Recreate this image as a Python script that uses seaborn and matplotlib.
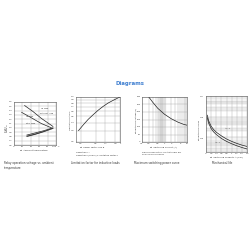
import numpy as np
import pandas as pd
import matplotlib
matplotlib.use("Agg")
import matplotlib.pyplot as plt
import seaborn as sns

sns.set_theme(style="white")
plt.rcParams['font.family'] = ['DejaVu Sans']

# Panel 1: relay operation voltage vs ambient temperature
p1_temp_max = [25, 45, 65, 93]
p1_umax_noload = [1.52, 1.38, 1.22, 1.03]
p1_temp_max2 = [18, 40, 65, 89]
p1_umax_load = [1.36, 1.24, 1.10, 1.00]
p1_temp_min = [30, 50, 70, 93]
p1_umin_a = [0.83, 0.88, 0.93, 1.00]
p1_umin_b = [0.80, 0.85, 0.91, 0.99]
p1_xticks = [0, 20, 40, 60, 80, 100]
p1_yticks = [0.6, 0.7, 0.8, 0.9, 1.0, 1.1, 1.2, 1.3, 1.4, 1.5, 1.6]

# Panel 2: limitation factor for inductive loads
p2_cosphi = [0.15, 0.25, 0.35, 0.45, 0.55, 0.65, 0.75, 0.85, 0.95, 1.0]
p2_factor = [0.30, 0.37, 0.45, 0.53, 0.62, 0.71, 0.80, 0.88, 0.96, 1.0]
p2_xticks = [0.2, 0.5, 0.7, 0.9, 1.0]
p2_xlabels = ["0.2", "0.5", "0.7", "0.9", "1"]

# Panel 3: maximum switching power curve
p3_current = [0.2, 0.3, 0.5, 1.0, 2.0, 4.0, 7.0, 10.0]
p3_voltage = [300, 265, 225, 185, 155, 132, 118, 112]
p3_xticks = [0.1, 0.2, 0.5, 1, 2, 5, 10]
p3_yticks = [0, 50, 100, 150, 200, 250, 300]

# Panel 4: mechanical life
p4_load = [0.05, 0.1, 0.2, 0.3, 0.4, 0.6, 0.8, 1.0, 1.2, 1.4, 1.6]
p4_life_a = [1.2e6, 6.5e5, 3.5e5, 2.4e5, 1.8e5, 1.2e5, 8.5e4, 6.5e4, 5.2e4, 4.3e4, 3.7e4]
p4_life_b = [9.0e5, 5.0e5, 2.7e5, 1.85e5, 1.4e5, 9.0e4, 6.5e4, 5.0e4, 4.0e4, 3.3e4, 2.8e4]
p4_xticks = [0, 0.2, 0.4, 0.6, 0.8, 1.0, 1.2, 1.4, 1.6]

captions = ["Relay operation voltage vs. ambient\ntemperature",
            "Limitation factor for inductive loads",
            "Maximum switching power curve",
            "Mechanical life"]

W = H = 250
fig = plt.figure(figsize=(2.5, 2.5), dpi=100)
fig.patch.set_facecolor("white")

def rect(x0, y0, x1, y1):
    return [x0 / W, 1 - y1 / H, (x1 - x0) / W, (y1 - y0) / H]

TF = 1.6
GC = "#9a9a9a"

def style(ax):
    for s in ax.spines.values():
        s.set_linewidth(0.4)
        s.set_color("#555555")
    ax.tick_params(labelsize=TF, length=0, pad=1, colors="#444444")
    ax.grid(True, which="both", color=GC, linewidth=0.25)
    ax.set_xlabel("")
    ax.set_ylabel("")

fig.text(130.5 / W, 1 - 83 / H, "Diagrams", ha="center", va="center",
         fontsize=3.9, color="#3f7fd0", fontweight="bold")

# ---- Panel 1
ax1 = fig.add_axes(rect(14, 102, 56, 145))
for xs, ys in [(p1_temp_max, p1_umax_noload), (p1_temp_max2, p1_umax_load),
               (p1_temp_min, p1_umin_a), (p1_temp_min, p1_umin_b)]:
    sns.lineplot(x=xs, y=ys, ax=ax1, color="#222222", linewidth=0.5)
ax1.fill_between(p1_temp_min, p1_umin_b, p1_umin_a, color="#777777", linewidth=0)
ax1.set_xlim(0, 100)
ax1.set_ylim(0.6, 1.6)
ax1.set_xticks(p1_xticks)
ax1.set_xticklabels([str(v) for v in p1_xticks[:-1]] + ["100 °C"])
ax1.set_yticks(p1_yticks)
ax1.set_yticklabels([f"{v:.1f}" for v in p1_yticks])
style(ax1)
ax1.text(62, 1.33, "U$_n$ max\nwithout load", fontsize=1.5, color="#333333")
ax1.text(27, 1.08, "U$_n$ max\nat I$_n$ max", fontsize=1.5, color="#333333")
fig.text(7 / W, 1 - 128 / H, "U/U$_n$", rotation=90, fontsize=2.5, ha="center", va="center")
fig.text(20 / W, 1 - 150 / H, "\u2192  Ambient temperature", fontsize=1.6, va="center")

# ---- Panel 2
ax2 = fig.add_axes(rect(76, 97, 120, 142))
sns.lineplot(x=p2_cosphi, y=p2_factor, ax=ax2, color="#222222", linewidth=0.5)
ax2.set_yscale("log")
ax2.set_xlim(0.1, 1.0)
ax2.set_ylim(0.2, 1.0)
ax2.set_xticks(p2_xticks)
ax2.set_xticklabels(p2_xlabels)
ax2.set_yticks([0.2, 0.3, 0.4, 0.5, 0.6, 0.7, 0.8, 0.9, 1.0])
ax2.set_yticklabels(["0.2", "0.3", "0.4", "0.5", "0.6", "0.7", "0.8", "0.9", "1.0"])
ax2.yaxis.set_minor_locator(matplotlib.ticker.NullLocator())
style(ax2)
fig.text(70 / W, 1 - 120 / H, "Limitation factor F", rotation=90, fontsize=1.5, ha="center", va="center")
fig.text(80 / W, 1 - 147 / H, "\u2192  Power factor cos \u03c6", fontsize=1.6, va="center")
fig.text(76 / W, 1 - 152 / H, "Operations =\nOperations (ohmic) x limitation factor F",
         fontsize=1.5, va="top", linespacing=1.8)

# ---- Panel 3
ax3 = fig.add_axes(rect(142, 97, 187, 142))
sns.lineplot(x=p3_current, y=p3_voltage, ax=ax3, color="#222222", linewidth=0.5)
ax3.set_xscale("log")
ax3.set_xlim(0.1, 10)
ax3.set_ylim(0, 300)
ax3.axvspan(0.5, 1.0, color="#eeeeee", zorder=0)
ax3.set_xticks(p3_xticks)
ax3.set_xticklabels([str(v) for v in p3_xticks])
ax3.set_yticks(p3_yticks)
style(ax3)
fig.text(136 / W, 1 - 120 / H, "\u2192 Switching voltage (V)", rotation=90, fontsize=1.5, ha="center", va="center")
fig.text(150 / W, 1 - 147 / H, "\u2192  Switching current (A)", fontsize=1.6, va="center")
fig.text(142 / W, 1 - 152 / H, "Safe disconnection, no stationary arc\nover 10 milliseconds",
         fontsize=1.5, va="top", linespacing=1.5)

# ---- Panel 4
ax4 = fig.add_axes(rect(206, 96, 247, 152))
ax4.set_yscale("log")
for lo in [2e4, 4e4, 2e5, 4e5, 2e6, 4e6]:
    ax4.axhspan(lo, lo * 1.5, color="#ececec", zorder=0, linewidth=0)
sns.lineplot(x=p4_load, y=p4_life_a, ax=ax4, color="#222222", linewidth=0.5)
sns.lineplot(x=p4_load, y=p4_life_b, ax=ax4, color="#222222", linewidth=0.5)
ax4.set_xlim(0, 1.6)
ax4.set_ylim(2e4, 1e7)
ax4.set_xticks(p4_xticks)
ax4.set_xticklabels([f"{v:g}" for v in p4_xticks])
ax4.set_yticks([1e5, 1e6, 1e7])
ax4.set_yticklabels(["10$^5$", "10$^6$", "10$^7$"])
style(ax4)
ax4.grid(True, which="minor", axis="y", color="#b5b5b5", linewidth=0.2)
ax4.text(0.7, 2.5e5, "A$_1$=1", fontsize=1.5, color="#333333")
ax4.text(0.3, 5e4, "A$_2$=1", fontsize=1.5, color="#333333")
fig.text(199 / W, 1 - 130 / H, "\u2192 Switching cycles", rotation=90, fontsize=1.5, ha="center", va="center")
fig.text(210 / W, 1 - 157 / H, "\u2192  Switching capacity A (kW)", fontsize=1.6, va="center")

# captions
CF = 1.95
fig.text(4 / W, 1 - 161 / H, captions[0], fontsize=CF, va="top", color="#333333", linespacing=1.3)
fig.text(95 / W, 1 - 161 / H, captions[1], fontsize=CF, va="top", ha="center", color="#333333")
fig.text(157 / W, 1 - 161 / H, captions[2], fontsize=CF, va="top", ha="center", color="#333333")
fig.text(222 / W, 1 - 161 / H, captions[3], fontsize=CF, va="top", ha="center", color="#333333")

fig.savefig("out.png", dpi=100, facecolor="white")
